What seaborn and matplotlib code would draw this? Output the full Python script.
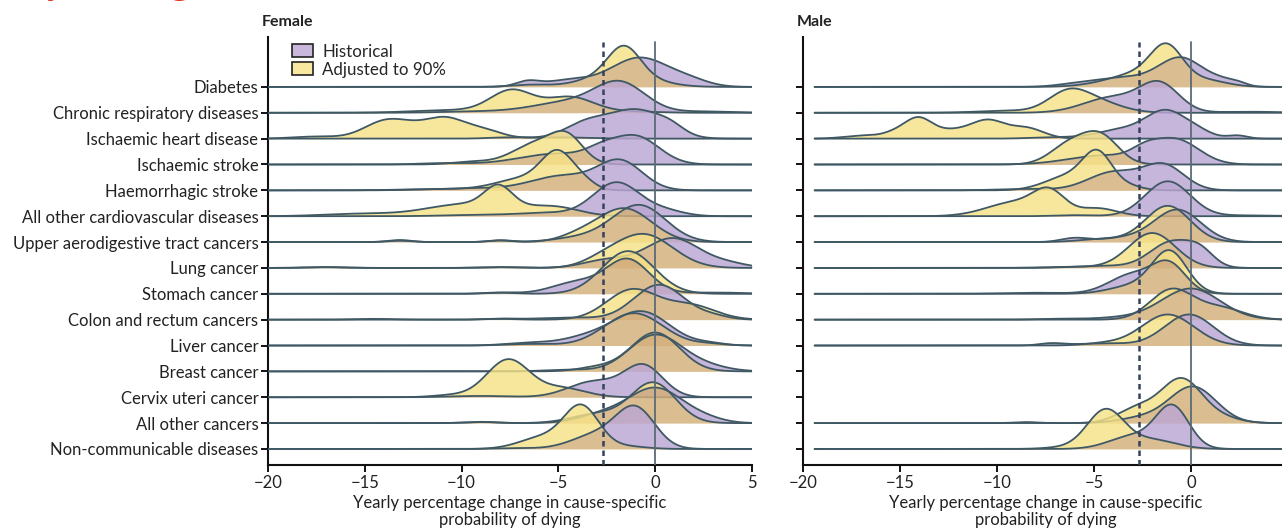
import numpy as np
import matplotlib
matplotlib.use("Agg")
import matplotlib.pyplot as plt
from matplotlib.patches import Patch
import seaborn as sns

# Causes, top to bottom
causes = ["Diabetes", "Chronic respiratory diseases", "Ischaemic heart disease",
          "Ischaemic stroke", "Haemorrhagic stroke", "All other cardiovascular diseases",
          "Upper aerodigestive tract cancers", "Lung cancer", "Stomach cancer",
          "Colon and rectum cancers", "Liver cancer", "Breast cancer",
          "Cervix uteri cancer", "All other cancers", "Non-communicable diseases"]

# Density: (centre %, height in row units, spread)
female_hist = [
    [(-0.8, 1.13, 1.5), (1.8, 0.2, 1.0), (-4.5, 0.25, 1.2), (-6.6, 0.2, 0.6)],
    [(-1.8, 1.1, 1.3), (-4.5, 0.4, 1.8), (2.5, 0.05, 1.5), (-9.0, 0.05, 2.0)],
    [(-1.0, 1.1, 1.4), (-3.6, 0.55, 1.1), (0.8, 0.25, 0.7), (-7.5, 0.05, 1.0)],
    [(-1.0, 1.05, 1.2), (-5.0, 0.42, 2.0), (-2.8, 0.3, 0.8), (-11.0, 0.05, 1.2)],
    [(-1.8, 1.1, 1.15), (-4.8, 0.55, 1.6), (-9.5, 0.08, 2.0)],
    [(-2.0, 1.3, 1.2), (0.5, 0.2, 1.0), (-5.5, 0.12, 1.5), (-9.0, 0.05, 1.8)],
    [(-0.8, 1.4, 1.35), (-3.5, 0.2, 1.5), (-13.2, 0.08, 0.6), (-8.0, 0.07, 0.6)],
    [(0.9, 1.15, 1.4), (-2.5, 0.3, 1.2), (3.8, 0.15, 1.0), (-17.0, 0.03, 1.0), (-8.0, 0.03, 1.0)],
    [(-1.4, 1.3, 1.1), (-4.0, 0.45, 1.3), (-8.0, 0.05, 0.8), (3.0, 0.05, 1.5)],
    [(0.2, 1.35, 1.3), (3.0, 0.12, 0.8), (-4.5, 0.08, 1.5), (-8.0, 0.04, 0.8), (-14.5, 0.03, 1.0)],
    [(-0.7, 1.3, 1.45), (-3.5, 0.3, 1.3), (2.8, 0.08, 0.8), (-6.5, 0.1, 1.2)],
    [(0.0, 1.4, 1.35), (2.5, 0.2, 1.2), (-4.5, 0.06, 1.2)],
    [(-0.6, 1.2, 1.0), (-3.2, 0.6, 1.3), (-9.0, 0.05, 1.5)],
    [(0.0, 1.35, 1.4), (-2.8, 0.3, 1.2), (2.5, 0.15, 1.0), (-9.0, 0.05, 0.8)],
    [(-1.0, 1.5, 1.0), (-3.0, 0.55, 1.3), (-7.2, 0.03, 1.0)],
]
female_adj = [
    [(-1.6, 1.0, 0.8), (-1.8, 0.6, 1.6), (-6.5, 0.08, 1.0)],
    [(-7.4, 0.85, 1.1), (-4.4, 0.6, 1.2), (-10.5, 0.1, 2.0), (-1.5, 0.05, 1.5)],
    [(-14.0, 0.6, 1.1), (-10.7, 0.65, 1.0), (-12.3, 0.35, 1.2), (-17.5, 0.08, 1.2),
     (-8.8, 0.3, 0.9), (-5.0, 0.05, 1.5)],
    [(-4.5, 0.8, 0.8), (-6.0, 0.85, 1.3), (-9.5, 0.1, 1.0)],
    [(-5.0, 1.35, 0.85), (-6.8, 0.45, 1.4), (-3.6, 0.2, 0.6), (-11.0, 0.05, 2.0)],
    [(-8.1, 0.75, 0.7), (-8.5, 0.45, 2.2), (-11.0, 0.15, 1.5), (-5.0, 0.25, 1.2), (-15.0, 0.1, 2.0)],
    [(-1.6, 1.3, 1.4), (-4.0, 0.2, 1.0), (-13.2, 0.05, 0.6), (-8.0, 0.06, 0.6)],
    [(-0.6, 1.3, 1.5), (-2.8, 0.2, 1.0), (-17.0, 0.03, 1.0), (-8.0, 0.03, 1.0)],
    [(-1.4, 1.65, 1.35), (-8.0, 0.04, 0.8)],
    [(-1.2, 1.15, 1.3), (1.8, 0.55, 1.3), (-8.0, 0.03, 0.8)],
    [(-1.1, 1.25, 1.5), (2.8, 0.06, 0.8), (-6.5, 0.06, 1.2)],
    [(0.0, 1.5, 1.25), (-3.0, 0.15, 1.0)],
    [(-7.6, 1.45, 1.1), (-4.8, 0.35, 1.2), (-10.5, 0.08, 1.0)],
    [(-0.1, 1.55, 1.15), (-3.0, 0.35, 1.3), (-9.0, 0.04, 0.8)],
    [(-3.8, 1.6, 0.9), (-5.8, 0.45, 1.2), (-1.5, 0.1, 1.0)],
]
male_hist = [
    [(-0.5, 1.1, 1.15), (-3.5, 0.35, 1.5), (1.5, 0.15, 0.6), (2.4, 0.15, 0.5), (-6.0, 0.08, 1.0)],
    [(-1.6, 1.05, 1.0), (-4.0, 0.6, 1.5), (3.0, 0.04, 1.5)],
    [(-1.3, 1.0, 1.0), (-3.5, 0.35, 1.3), (0.3, 0.25, 0.8), (2.4, 0.12, 0.5), (-7.0, 0.05, 1.2)],
    [(-0.8, 0.95, 1.2), (-4.5, 0.35, 1.8), (-2.4, 0.3, 0.7)],
    [(-1.4, 0.95, 1.05), (-4.0, 0.7, 1.3), (-8.5, 0.05, 1.5)],
    [(-1.2, 1.35, 1.15), (-6.0, 0.04, 1.0), (3.0, 0.03, 1.5)],
    [(-0.7, 1.25, 1.2), (-6.0, 0.15, 0.7), (-3.5, 0.15, 1.2)],
    [(-1.0, 1.0, 1.1), (0.5, 0.5, 0.7), (-4.5, 0.08, 1.5)],
    [(-1.1, 1.05, 0.85), (-3.0, 0.75, 1.2), (-8.0, 0.04, 1.5)],
    [(0.0, 1.2, 1.5), (-3.5, 0.08, 1.5), (-7.0, 0.03, 1.0)],
    [(-0.1, 1.2, 1.25), (-7.2, 0.08, 0.6), (-4.5, 0.08, 1.5)],
    None,
    None,
    [(0.1, 1.4, 1.2), (-2.5, 0.2, 1.2), (-8.5, 0.04, 0.6)],
    [(-0.95, 1.6, 0.85), (-3.0, 0.5, 1.2)],
]
male_adj = [
    [(-1.25, 1.15, 0.8), (-2.2, 0.6, 1.8), (1.0, 0.15, 1.0)],
    [(-6.4, 0.65, 1.0), (-5.0, 0.45, 1.3), (-9.5, 0.08, 1.5)],
    [(-14.1, 0.68, 0.7), (-10.4, 0.5, 0.8), (-12.0, 0.35, 1.5), (-8.5, 0.4, 0.9),
     (-16.8, 0.12, 1.0), (-15.3, 0.15, 0.6)],
    [(-4.6, 1.0, 0.9), (-6.2, 0.8, 1.0)],
    [(-4.8, 1.3, 0.75), (-6.3, 0.55, 1.2), (-3.2, 0.15, 0.7)],
    [(-7.3, 0.8, 0.8), (-9.0, 0.55, 1.5), (-4.8, 0.3, 1.0)],
    [(-1.2, 1.4, 1.15), (-4.5, 0.12, 1.2)],
    [(-2.0, 1.35, 1.2), (-6.0, 0.04, 1.5)],
    [(-1.1, 1.6, 0.9), (-3.0, 0.3, 1.2)],
    [(-1.0, 1.15, 1.1), (1.5, 0.45, 1.2)],
    [(-1.2, 1.2, 1.35), (-4.5, 0.08, 1.0)],
    None,
    None,
    [(-0.5, 1.68, 1.05), (-2.8, 0.55, 1.0), (1.5, 0.2, 1.0)],
    [(-4.4, 1.5, 0.95), (-2.0, 0.35, 1.2), (-6.5, 0.06, 1.0)],
]

x_ticks = [-20, -15, -10, -5, 0, 5]
target_line = -2.7

PURPLE = "#bba6d3"
YELLOW = "#f6e288"
TAN = "#d3af7a"
EDGE = "#3f5863"

sns.set_theme(style="ticks")
plt.rcParams["font.family"] = ["Lato", "DejaVu Sans"]

fig = plt.figure(figsize=(12.82, 5.28), dpi=100)
ax_f = fig.add_axes([268 / 1282, 63 / 528, 484 / 1282, 428 / 528])
ax_m = fig.add_axes([803 / 1282, 63 / 528, 485 / 1282, 428 / 528])


def bumps(xs, parts):
    out = np.zeros_like(xs)
    for c, h, s in parts:
        out += h * np.exp(-0.5 * ((xs - c) / s) ** 2)
    return out


def draw_panel(ax, hist, adj, x_start, title, labels):
    xs = np.linspace(x_start, 5, 700)
    for i in range(len(causes)):
        if hist[i] is None:
            continue
        base = -i
        h = bumps(xs, hist[i])
        a = bumps(xs, adj[i])
        low = np.minimum(h, a)
        z = 10 + 3 * i
        ax.fill_between(xs, base, base + low, color=TAN, alpha=0.82, lw=0, zorder=z)
        ax.fill_between(xs, base + low, base + h, color=PURPLE, alpha=0.82, lw=0, zorder=z)
        ax.fill_between(xs, base + low, base + a, color=YELLOW, alpha=0.82, lw=0, zorder=z)
        sns.lineplot(x=xs, y=base + h, color=EDGE, lw=1.3, ax=ax, zorder=z + 1)
        sns.lineplot(x=xs, y=base + a, color=EDGE, lw=1.3, ax=ax, zorder=z + 1)

    ax.plot([0, 0], [-14.62, 1.72], color="#5b6b76", lw=1.3, zorder=100)
    ax.plot([target_line, target_line], [-14.62, 1.72], color="#34415f", lw=1.8,
            ls=(0, (2.2, 1.6)), zorder=100)

    ax.set_xlim(-20, 5)
    ax.set_ylim(-14.62, 1.93)
    ax.set_xticks(x_ticks)
    ax.set_xticklabels([str(t).replace("-", "\u2212") for t in x_ticks], fontsize=12)
    ax.set_yticks([-i for i in range(len(causes))])
    if labels:
        ax.set_yticklabels(causes, fontsize=12)
    else:
        ax.set_yticklabels([])
    ax.set_xlabel("Yearly percentage change in cause-specific\nprobability of dying",
                  fontsize=12, color="#222222", labelpad=3, linespacing=1.05)
    ax.set_ylabel("")
    for side in ["top", "right"]:
        ax.spines[side].set_visible(False)
    for side in ["left", "bottom"]:
        ax.spines[side].set_color("#111111")
        ax.spines[side].set_linewidth(1.5)
    ax.tick_params(axis="both", direction="out", length=5, width=1.4, color="#111111",
                   labelcolor="#222222", pad=2)
    ax.set_facecolor("white")
    ax.grid(False)
    ax.text(-0.012, 1.035, title, transform=ax.transAxes, fontsize=11.5, fontweight="bold",
            color="#222222", ha="left", va="center")


draw_panel(ax_f, female_hist, female_adj, -20, "Female", True)
draw_panel(ax_m, male_hist, male_adj, -19.4, "Male", False)

handles = [Patch(facecolor="#c9b8dc", edgecolor="#222222", lw=1.2, label="Historical"),
           Patch(facecolor="#f8e8a0", edgecolor="#222222", lw=1.2, label="Adjusted to 90%")]
ax_f.legend(handles=handles, loc="upper left", bbox_to_anchor=(0.035, 1.0), frameon=False,
            fontsize=12.2, handlelength=1.25, handleheight=0.8, handletextpad=0.55,
            labelspacing=0.12, borderaxespad=0.0)

# top of the page title, cut off by the crop
fig.text(0.018, 1.014, "By halving", fontsize=26, fontweight="bold", color="#e8321e",
         family="Liberation Serif", ha="left", va="baseline")

fig.savefig("out.png", dpi=100, facecolor="white")
